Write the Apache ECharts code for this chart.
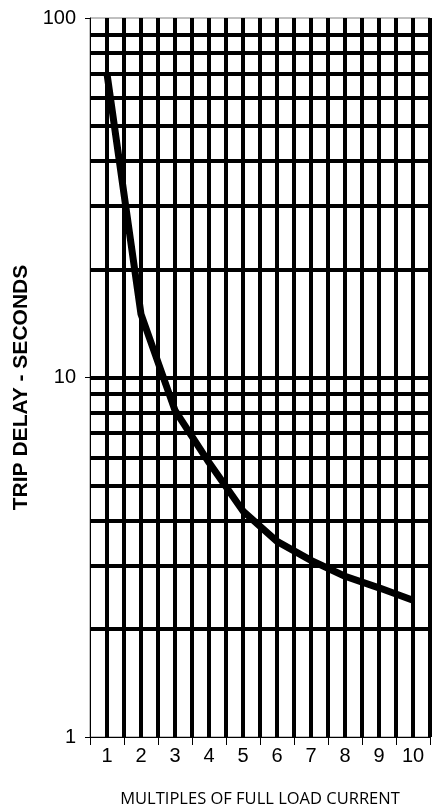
<!DOCTYPE html>
<html><head><meta charset="utf-8">
<script src="https://cdn.jsdelivr.net/npm/echarts@6/dist/echarts.min.js"></script>
<style>html,body{margin:0;padding:0;background:#fff}#c{width:434px;height:806px}</style>
</head><body><div id="c"></div>
<script>
const categories = ['1','2','3','4','5','6','7','8','9','10'];
const multiples = [1,2,3,4,5,6,7,8,9,10];
const tripDelay = [70,15,8.1,5.8,4.25,3.5,3.1,2.8,2.6,2.4];
const minorGridValues = [2,3,4,5,6,7,8,9,20,30,40,50,60,70,80,90];

const chart = echarts.init(document.getElementById('c'), null, {renderer:'canvas'});
const option = {
  animation:false,
  grid:{left:90,right:4,top:18,bottom:69,containLabel:false,outerBoundsMode:'none',
    show:true,borderColor:'#808080',borderWidth:1,backgroundColor:'#fff'},
  xAxis:[
   {type:'value',min:0.5,max:10.5,interval:0.5,position:'bottom',
    axisLine:{show:true,onZero:false,lineStyle:{color:'#000',width:1}},
    axisTick:{show:false},axisLabel:{show:false},
    splitLine:{show:true,showMinLine:false,showMaxLine:true,lineStyle:{color:'#000',width:4}}},
   {type:'category',data:categories,position:'bottom',boundaryGap:true,
    axisLine:{show:false},
    axisTick:{show:true,alignWithLabel:false,length:8,lineStyle:{color:'#000',width:1}},
    axisLabel:{margin:9,fontSize:20,color:'#000',fontFamily:'Liberation Sans'},
    splitLine:{show:false},
    name:'MULTIPLES OF FULL LOAD CURRENT',nameLocation:'middle',nameGap:54,
    nameTextStyle:{fontFamily:'Open Sans',fontSize:16.5,color:'#000'}}
  ],
  yAxis:{type:'log',logBase:10,min:1,max:100,
    axisLine:{show:true,lineStyle:{color:'#000',width:1}},
    axisTick:{show:true,length:5,lineStyle:{color:'#000',width:1}},
    minorTick:{show:false},
    axisLabel:{margin:14,fontSize:20,color:'#000',fontFamily:'Liberation Sans',formatter:v=>String(v)},
    splitLine:{show:true,showMinLine:false,showMaxLine:false,lineStyle:{color:'#000',width:4}},
    name:'TRIP DELAY - SECONDS',nameLocation:'middle',nameGap:52,
    nameTextStyle:{fontFamily:'Liberation Sans',fontWeight:'bold',fontSize:21,color:'#000',padding:[0,20,0,0]}},
  series:[
    {type:'line',xAxisIndex:0,yAxisIndex:0,data:[],z:1,silent:true,
     markLine:{silent:true,symbol:['none','none'],animation:false,label:{show:false},
       emphasis:{disabled:true},
       lineStyle:{color:'#000',width:4,type:'solid'},
       data:minorGridValues.map(v=>({yAxis:v}))}},
    {type:'line',xAxisIndex:0,yAxisIndex:0,z:3,showSymbol:false,symbol:'none',silent:true,
     data:multiples.map((m,i)=>[m,tripDelay[i]]),
     lineStyle:{color:'#000',width:7}}
  ]
};
chart.setOption(option);
</script></body></html>
